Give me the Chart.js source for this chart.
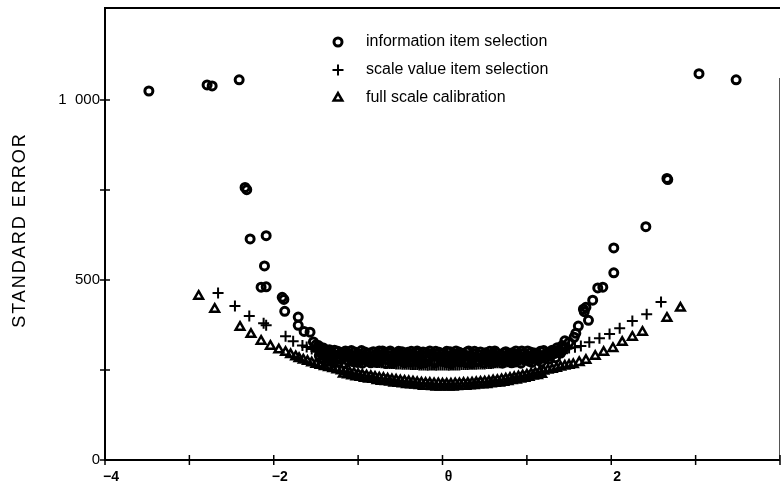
<!DOCTYPE html>
<html>
<head>
<meta charset="utf-8">
<script src="https://cdn.jsdelivr.net/npm/chart.js@4.4.1/dist/chart.umd.min.js"></script>
<style>
  html, body { margin: 0; padding: 0; background: #fff; }
  #wrap { width: 781px; height: 485px; }
</style>
</head>
<body>
<div id="wrap"><canvas id="chart" width="781" height="485"></canvas></div>
<script>
"use strict";

// [theta, standard error]
var infoPoints = [
    [-3.48, 1025], [-2.79, 1042], [-2.73, 1039], [-2.41, 1056], [-2.34, 757], [-2.32, 751],
    [-2.28, 614], [-2.09, 623], [-2.11, 539], [-2.15, 480], [-2.09, 481], [-1.90, 452],
    [-1.88, 446], [-1.87, 413], [-1.71, 397], [-1.71, 374], [-1.64, 357], [-1.57, 355],
    [-1.53, 328], [-1.50, 320],
    [-1.47, 318], [-1.45, 305], [-1.43, 296], [-1.41, 311], [-1.38, 288], [-1.36, 301],
    [-1.33, 279], [-1.31, 296], [-1.28, 305], [-1.25, 284], [-1.23, 272], [-1.20, 298],
    [-1.17, 289], [-1.15, 303], [-1.12, 276], [-1.09, 293], [-1.07, 282], [-1.04, 300],
    [-1.01, 271], [-0.98, 291], [-0.96, 304], [-0.93, 279], [-0.90, 295], [-0.87, 286],
    [-0.85, 270], [-0.82, 301], [-0.79, 283], [-0.76, 293], [-0.74, 274], [-0.71, 303],
    [-0.68, 288], [-0.65, 279], [-0.63, 297], [-0.60, 269], [-0.57, 292], [-0.54, 284],
    [-0.52, 302], [-0.49, 276], [-0.46, 290], [-0.43, 281], [-0.41, 299], [-0.38, 272],
    [-0.35, 294], [-0.32, 286], [-0.30, 303], [-0.27, 277], [-0.24, 291], [-0.21, 270],
    [-0.19, 298], [-0.16, 283], [-0.13, 295], [-0.10, 275], [-0.08, 302], [-0.05, 287],
    [-0.02, 279], [0.01, 296], [0.04, 271], [0.06, 290], [0.09, 301], [0.12, 282],
    [0.15, 294], [0.17, 274], [0.20, 299], [0.23, 285], [0.26, 292], [0.28, 270],
    [0.31, 303], [0.34, 280], [0.37, 295], [0.39, 287], [0.42, 273], [0.45, 300],
    [0.48, 284], [0.50, 293], [0.53, 277], [0.56, 302], [0.59, 289], [0.61, 271],
    [0.64, 297], [0.67, 283], [0.70, 292], [0.72, 276], [0.75, 301], [0.78, 288],
    [0.81, 279], [0.83, 298], [0.86, 272], [0.89, 294], [0.92, 285], [0.94, 303],
    [0.97, 280], [1.00, 291], [1.03, 274], [1.05, 299], [1.08, 287], [1.11, 295],
    [1.14, 278], [1.16, 302], [1.19, 290], [1.22, 283], [1.25, 298], [1.27, 292],
    [1.30, 305], [1.33, 296], [1.36, 312], [1.39, 303], [1.42, 318],
    [-1.46, 290], [-1.44, 312], [-1.42, 280], [-1.39, 300], [-1.37, 274], [-1.34, 306],
    [-1.32, 286], [-1.29, 270], [-1.27, 292], [-1.24, 302], [-1.21, 281], [-1.19, 294],
    [-1.16, 268], [-1.13, 298], [-1.11, 287], [-1.08, 304], [-1.06, 273], [-1.03, 289],
    [-1.00, 296], [-0.97, 280], [-0.95, 269], [-0.92, 300], [-0.89, 285], [-0.86, 297],
    [-0.84, 278], [-0.81, 290], [-0.78, 271], [-0.75, 303], [-0.73, 284], [-0.70, 295],
    [-0.67, 268], [-0.64, 290], [-0.62, 303], [-0.59, 282], [-0.56, 273], [-0.53, 296],
    [-0.51, 288], [-0.48, 301], [-0.45, 270], [-0.42, 293], [-0.40, 283], [-0.37, 302],
    [-0.34, 274], [-0.31, 289], [-0.29, 297], [-0.26, 268], [-0.23, 300], [-0.20, 286],
    [-0.18, 277], [-0.15, 303], [-0.12, 289], [-0.09, 270], [-0.07, 294], [-0.04, 299],
    [-0.01, 274], [0.02, 288], [0.05, 302], [0.07, 280], [0.10, 268], [0.13, 292],
    [0.16, 303], [0.18, 281], [0.21, 272], [0.24, 296], [0.27, 278], [0.29, 300],
    [0.32, 290], [0.35, 269], [0.38, 302], [0.40, 276], [0.43, 293], [0.46, 283],
    [0.49, 270], [0.51, 298], [0.54, 287], [0.57, 272], [0.60, 295], [0.62, 303],
    [0.65, 276], [0.68, 290], [0.71, 269], [0.73, 298], [0.76, 282], [0.79, 296],
    [0.82, 270], [0.84, 291], [0.87, 303], [0.90, 278], [0.93, 269], [0.95, 296],
    [0.98, 288], [1.01, 303], [1.04, 283], [1.06, 271], [1.09, 297], [1.12, 281],
    [1.15, 290], [1.17, 272], [1.20, 304], [1.23, 293], [1.26, 280], [1.28, 288],
    [1.31, 299], [1.34, 284], [1.37, 305], [1.40, 297], [1.43, 311],
    [1.45, 331], [1.50, 327], [1.56, 341], [1.58, 352], [1.61, 372], [1.73, 388],
    [1.67, 419], [1.70, 424], [1.68, 412], [1.78, 444], [1.84, 478], [1.90, 480],
    [2.03, 520], [2.03, 589], [2.41, 648], [2.66, 782], [2.67, 779], [3.04, 1073],
    [3.48, 1056]
];

var scalePoints = [
    [-2.66, 464], [-2.46, 428], [-2.29, 400], [-2.12, 380], [-2.09, 374], [-1.86, 344],
    [-1.77, 330], [-1.66, 318], [-1.61, 314], [-1.55, 308],
    [-1.50, 303], [-1.45, 299], [-1.40, 296], [-1.35, 293], [-1.30, 290], [-1.25, 287],
    [-1.20, 285], [-1.15, 283], [-1.10, 281], [-1.05, 279], [-1.00, 278], [-0.95, 276],
    [-0.90, 275], [-0.85, 273], [-0.80, 272], [-0.75, 271], [-0.70, 270], [-0.65, 269],
    [-0.60, 268], [-0.55, 267], [-0.50, 267], [-0.45, 266], [-0.40, 266], [-0.35, 265],
    [-0.30, 265], [-0.25, 264], [-0.20, 264], [-0.15, 264], [-0.10, 264], [-0.05, 264],
    [0.00, 264], [0.05, 264], [0.10, 264], [0.15, 264], [0.20, 264], [0.25, 265],
    [0.30, 265], [0.35, 266], [0.40, 266], [0.45, 267], [0.50, 267], [0.55, 268],
    [0.60, 269], [0.65, 270], [0.70, 271], [0.75, 272], [0.80, 273], [0.85, 275],
    [0.90, 276], [0.95, 278], [1.00, 280], [1.05, 282], [1.10, 284], [1.15, 287],
    [1.20, 290], [1.25, 293], [1.30, 296], [1.35, 300], [1.40, 304], [1.45, 307],
    [-1.475, 301], [-1.425, 298], [-1.375, 294], [-1.325, 291], [-1.275, 289], [-1.225, 286],
    [-1.175, 284], [-1.125, 282], [-1.075, 280], [-1.025, 279], [-0.975, 277], [-0.925, 275],
    [-0.875, 274], [-0.825, 273], [-0.775, 271], [-0.725, 270], [-0.675, 269], [-0.625, 268],
    [-0.575, 268], [-0.525, 267], [-0.475, 266], [-0.425, 266], [-0.375, 265], [-0.325, 265],
    [-0.275, 264], [-0.225, 264], [-0.175, 263], [-0.125, 264], [-0.075, 263], [-0.025, 264],
    [0.025, 264], [0.075, 263], [0.125, 264], [0.175, 264], [0.225, 265], [0.275, 265],
    [0.325, 266], [0.375, 266], [0.425, 267], [0.475, 267], [0.525, 268], [0.575, 268],
    [0.625, 270], [0.675, 270], [0.725, 272], [0.775, 273], [0.825, 274], [0.875, 276],
    [0.925, 277], [0.975, 279], [1.025, 281], [1.075, 283], [1.125, 286], [1.175, 288],
    [1.225, 291], [1.275, 295], [1.325, 298], [1.375, 302], [1.425, 305], [1.475, 309],
    [1.50, 311], [1.57, 313], [1.64, 317], [1.74, 327], [1.86, 338], [1.98, 350],
    [2.10, 366], [2.25, 386], [2.42, 405], [2.59, 439]
];

var fullPoints = [
    [-2.89, 455], [-2.70, 419], [-2.40, 369], [-2.27, 349], [-2.15, 330], [-2.04, 316],
    [-1.94, 306], [-1.86, 299], [-1.80, 293], [-1.74, 287],
    [-1.70, 282], [-1.65, 278], [-1.60, 274], [-1.55, 270], [-1.50, 266], [-1.45, 263],
    [-1.40, 260], [-1.35, 257], [-1.30, 254], [-1.25, 251], [-1.20, 248], [-1.15, 246],
    [-1.10, 243], [-1.05, 241], [-1.00, 238], [-0.95, 236], [-0.90, 234], [-0.85, 232],
    [-0.80, 230], [-0.75, 228], [-0.70, 227], [-0.65, 225], [-0.60, 223], [-0.55, 222],
    [-0.50, 220], [-0.45, 219], [-0.40, 218], [-0.35, 217], [-0.30, 215], [-0.25, 214],
    [-0.20, 213], [-0.15, 213], [-0.10, 212], [-0.05, 212], [0.00, 211], [0.05, 211],
    [0.10, 211], [0.15, 212], [0.20, 212], [0.25, 213], [0.30, 213], [0.35, 214],
    [0.40, 215], [0.45, 216], [0.50, 217], [0.55, 218], [0.60, 220], [0.65, 221],
    [0.70, 223], [0.75, 225], [0.80, 227], [0.85, 229], [0.90, 231], [0.95, 234],
    [1.00, 236], [1.05, 239], [1.10, 241], [1.15, 244], [1.20, 247], [1.25, 250],
    [1.30, 252], [1.35, 255], [1.40, 258], [1.45, 261], [1.50, 263],
    [-1.175, 239], [-1.125, 237], [-1.075, 234], [-1.025, 231], [-0.975, 230], [-0.925, 227],
    [-0.875, 225], [-0.825, 224], [-0.775, 221], [-0.725, 219], [-0.675, 218], [-0.625, 217],
    [-0.575, 214], [-0.525, 213], [-0.475, 212], [-0.425, 210], [-0.375, 209], [-0.325, 208],
    [-0.275, 207], [-0.225, 205], [-0.175, 205], [-0.125, 204], [-0.075, 203], [-0.025, 203],
    [0.025, 204], [0.075, 203], [0.125, 203], [0.175, 204], [0.225, 205], [0.275, 205],
    [0.325, 206], [0.375, 207], [0.425, 209], [0.475, 209], [0.525, 210], [0.575, 212],
    [0.625, 213], [0.675, 214], [0.725, 216], [0.775, 218], [0.825, 221], [0.875, 222],
    [0.925, 225], [0.975, 227], [1.025, 230], [1.075, 233], [1.125, 235], [1.175, 238],
    [1.55, 265], [1.62, 271], [1.70, 277], [1.81, 288], [1.91, 299], [2.02, 310],
    [2.13, 327], [2.25, 341], [2.37, 355], [2.66, 394], [2.82, 422]
];

var seriesNames = ['information item selection', 'scale value item selection', 'full scale calibration'];
var xTickLabels = { '-4': '\u22124', '-2': '\u22122', '0': '\u03b8', '2': '2' };
var yTickLabels = { '0': '0', '500': '500', '1000': '1\u2007000' };
var yTitle = 'STANDARD ERROR';

var FONT = '"Liberation Sans", Arial, sans-serif';

function toXY(list) {
    return list.map(function (p) { return { x: p[0], y: p[1] }; });
}

var markerStyles = [
    { pointStyle: 'circle', radius: 4, borderWidth: 3 },
    { pointStyle: 'cross', radius: 5.5, borderWidth: 2 },
    { pointStyle: 'triangle', radius: 5, borderWidth: 2.5 }
];

// frame, crossing ticks, rotated y title and the in-plot key
var decorPlugin = {
    id: 'decor',
    afterDraw: function (chart) {
        var ctx = chart.ctx;
        var area = chart.chartArea;
        var xs = chart.scales.x, ys = chart.scales.y;
        var top = area.top - 2;
        ctx.save();
        ctx.strokeStyle = '#000';
        ctx.lineWidth = 2;
        ctx.beginPath();
        ctx.moveTo(area.right, top);
        ctx.lineTo(area.left, top);
        ctx.lineTo(area.left, area.bottom);
        ctx.lineTo(area.right, area.bottom);
        ctx.stroke();
        ctx.lineWidth = 1;
        ctx.strokeStyle = '#555';
        ctx.beginPath();
        ctx.moveTo(area.right - 0.5, top + 70);
        ctx.lineTo(area.right - 0.5, area.bottom);
        ctx.stroke();

        ctx.strokeStyle = '#000';
        ctx.lineWidth = 1.5;
        xs.ticks.forEach(function (t) {
            var px = xs.getPixelForValue(t.value);
            ctx.beginPath();
            ctx.moveTo(px, area.bottom - 5);
            ctx.lineTo(px, area.bottom + 5);
            ctx.stroke();
        });
        ys.ticks.forEach(function (t) {
            if (t.value >= ys.max) return;
            var py = ys.getPixelForValue(t.value);
            ctx.beginPath();
            ctx.moveTo(area.left - 5, py);
            ctx.lineTo(area.left + 5, py);
            ctx.stroke();
        });

        ctx.fillStyle = '#000';
        ctx.font = '18px ' + FONT;
        ctx.textAlign = 'center';
        ctx.textBaseline = 'middle';
        ctx.translate(20, 230);
        ctx.rotate(-Math.PI / 2);
        ctx.letterSpacing = '2px';
        ctx.fillText(yTitle, 0, 0);
        ctx.restore();

        ctx.save();
        ctx.strokeStyle = '#000';
        ctx.font = '16px ' + FONT;
        ctx.textAlign = 'left';
        ctx.textBaseline = 'middle';
        var rows = [42, 70, 98];
        seriesNames.forEach(function (name, i) {
            var m = markerStyles[i];
            ctx.lineWidth = m.borderWidth;
            ctx.fillStyle = 'rgba(0,0,0,0)';
            Chart.helpers.drawPoint(ctx, { pointStyle: m.pointStyle, radius: m.radius, rotation: 0, borderWidth: m.borderWidth }, 338, rows[i]);
            ctx.fillStyle = '#000';
            ctx.fillText(name, 366, rows[i]);
        });
        ctx.restore();
    }
};

var datasets = [infoPoints, scalePoints, fullPoints].map(function (pts, i) {
    var m = markerStyles[i];
    return {
        label: seriesNames[i],
        data: toXY(pts),
        pointStyle: m.pointStyle,
        pointRadius: m.radius,
        pointBorderWidth: m.borderWidth,
        pointBorderColor: '#000',
        pointBackgroundColor: 'rgba(0,0,0,0)',
        showLine: false
    };
});

new Chart(document.getElementById('chart').getContext('2d'), {
    type: 'scatter',
    data: { datasets: datasets },
    plugins: [decorPlugin],
    options: {
        responsive: false,
        animation: false,
        devicePixelRatio: 1,
        layout: { autoPadding: false, padding: { left: 0, right: 1, top: 10, bottom: 0 } },
        scales: {
            x: {
                type: 'linear',
                min: -4,
                max: 4,
                afterFit: function (scale) {
                    scale.height = 25;
                    scale.paddingLeft = 0;
                    scale.paddingRight = 0;
                },
                grid: { display: true, drawOnChartArea: false, drawTicks: true, tickLength: 9, color: 'rgba(0,0,0,0)' },
                border: { display: false },
                ticks: {
                    stepSize: 1,
                    autoSkip: false,
                    maxRotation: 0,
                    padding: 0,
                    labelOffset: 6,
                    color: '#000',
                    font: { family: FONT, size: 14, weight: 'bold' },
                    callback: function (v) { return xTickLabels[String(v)] || ''; }
                }
            },
            y: {
                type: 'linear',
                min: 0,
                max: 1250,
                afterFit: function (scale) {
                    scale.width = 105;
                    scale.paddingTop = 0;
                    scale.paddingBottom = 0;
                },
                grid: { display: true, drawOnChartArea: false, drawTicks: true, tickLength: 5, color: 'rgba(0,0,0,0)' },
                border: { display: false },
                ticks: {
                    stepSize: 250,
                    autoSkip: false,
                    padding: 0,
                    color: '#000',
                    font: { family: FONT, size: 15 },
                    callback: function (v) { return yTickLabels[String(v)] || ''; }
                }
            }
        },
        plugins: {
            legend: { display: false },
            tooltip: { enabled: false }
        }
    }
});
</script>
</body>
</html>
